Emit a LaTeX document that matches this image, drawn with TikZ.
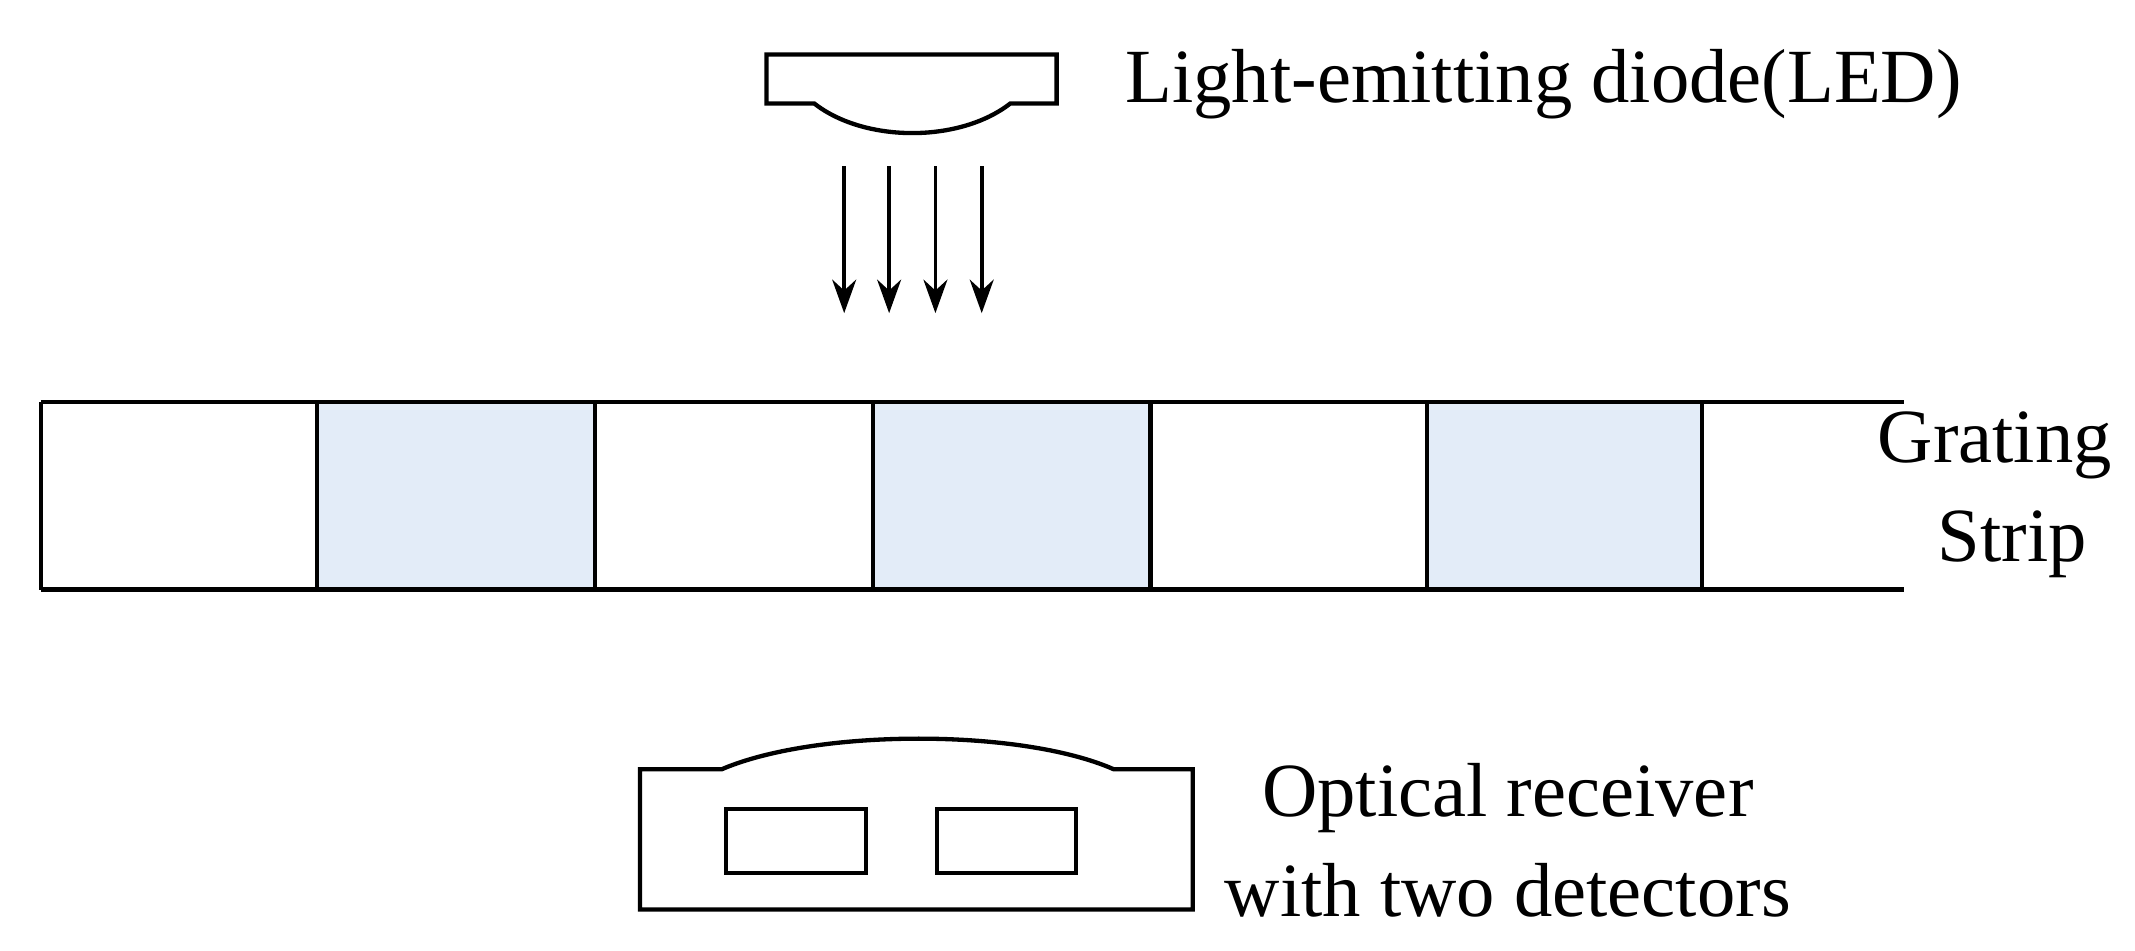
\documentclass[tikz,border=0pt]{standalone}
\usepackage{fontspec}
\setmainfont{Liberation Serif}
\usetikzlibrary{positioning, arrows.meta}
\definecolor{cellblue}{HTML}{E3ECF8}

\begin{document}
\begin{tikzpicture}[x=0.01cm, y=-0.01cm, line width=0.9pt,
        lbl/.style={font=\fontsize{16}{21}\selectfont, align=center, inner sep=0pt},
        ray/.style={-{Stealth[length=7pt, width=5pt]}, line width=0.8pt}]
      \useasboundingbox (0,0) rectangle (1568,698);
      % LED
      \draw (563,40) -- (776,40) -- (776,76) -- (742,76)
        .. controls (705,105) and (635,105) .. (598,76) -- (563,76) -- cycle;
      \node[lbl, anchor=west] (led) at (825,62) {Light-emitting diode(LED)};
      % light rays
      \foreach \x in {620,653,687,721} {
        \coordinate (s\x) at (\x,122);
        \coordinate (e\x) at (\x,230);
        \draw[ray] (s\x) -- (e\x);
      }
      % grating strip
      \foreach \x in {233,641,1048} {
        \fill[cellblue] (\x,295) rectangle ++(203,138);
      }
      \draw (30,295) -- (1398,295);
      \draw (30,433) -- (1398,433);
      \foreach \x in {30,233,437,641,845,1048,1250} {
        \draw (\x,295) -- (\x,433);
      }
      \node[lbl] (grating) at (1465,327) {Grating};
      \node[lbl] (strip) at (1478,400) {Strip};
      % optical receiver
      \draw (470,565) -- (530,565)
        .. controls (600,535) and (750,535) .. (818,565) -- (876,565)
        -- (876,668) -- (470,668) -- cycle;
      \draw (533,594) rectangle (636,641);
      \draw (688,594) rectangle (790,641);
      \node[lbl, anchor=west] (rx) at (898,617) {Optical receiver\\with two detectors};
    \end{tikzpicture}
\end{document}
